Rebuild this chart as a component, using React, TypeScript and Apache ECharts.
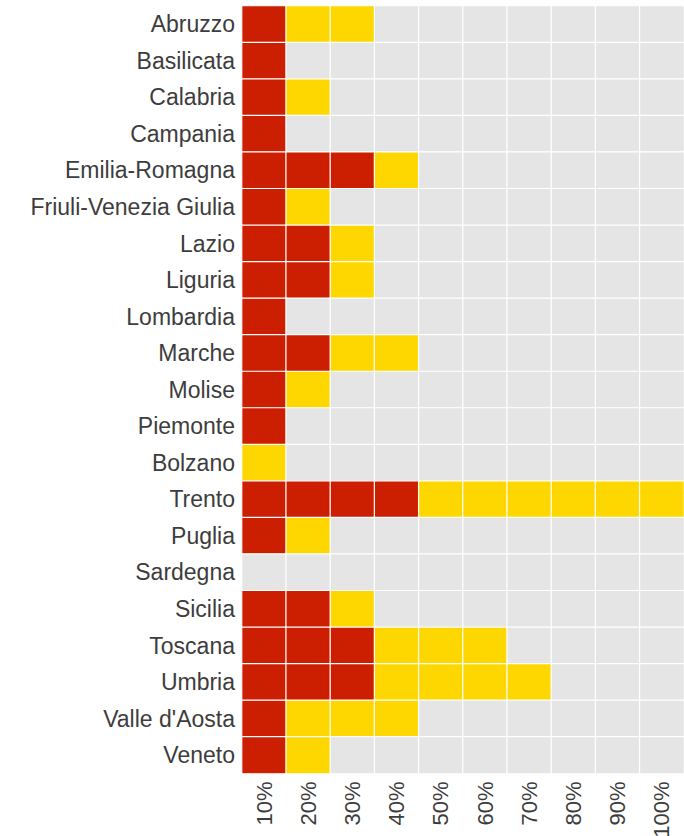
import React, { useEffect, useRef } from "react";
import * as echarts from "echarts";

const regions = [
  "Abruzzo",
  "Basilicata",
  "Calabria",
  "Campania",
  "Emilia-Romagna",
  "Friuli-Venezia Giulia",
  "Lazio",
  "Liguria",
  "Lombardia",
  "Marche",
  "Molise",
  "Piemonte",
  "Bolzano",
  "Trento",
  "Puglia",
  "Sardegna",
  "Sicilia",
  "Toscana",
  "Umbria",
  "Valle d'Aosta",
  "Veneto",
];

// number of red cells and yellow cells per region (from left)
const redCounts = [1, 1, 1, 1, 3, 1, 2, 2, 1, 2, 1, 1, 0, 4, 1, 0, 2, 3, 3, 1, 1];
const yellowCounts = [2, 0, 1, 0, 1, 1, 1, 1, 0, 2, 1, 0, 1, 6, 1, 0, 1, 3, 4, 3, 1];

const thresholds = ["10%", "20%", "30%", "40%", "50%", "60%", "70%", "80%", "90%", "100%"];

const RED = "#CC1E00";
const YELLOW = "#FFD700";
const GREY = "#E5E5E5";

export default function App() {
  const ref = useRef<HTMLDivElement>(null);

  useEffect(() => {
    if (!ref.current) return;
    const chart = echarts.init(ref.current, undefined, { renderer: "svg" });

    const data: number[][] = [];
    regions.forEach((reg, ri) => {
      const r = redCounts[ri];
      const y = yellowCounts[ri];
      thresholds.forEach((t, ci) => {
        const level = ci < r ? 2 : ci < r + y ? 1 : 0;
        data.push([ci, ri, level]);
      });
    });

    const font = "Liberation Sans, Arial, sans-serif";

    chart.setOption({
      animation: false,
      grid: {
        left: 242,
        top: 6,
        right: 0,
        bottom: 62.5,
        containLabel: false,
        outerBoundsMode: "none",
      },
      visualMap: {
        type: "piecewise",
        show: false,
        dimension: 2,
        pieces: [
          { value: 0, color: GREY },
          { value: 1, color: YELLOW },
          { value: 2, color: RED },
        ],
      },
      xAxis: {
        type: "category",
        data: thresholds,
        axisLine: { show: false },
        axisTick: { show: false },
        splitLine: { show: false },
        axisLabel: {
          fontFamily: font,
          fontSize: 22,
          color: "#3d3d3d",
          rotate: 90,
          margin: 8,
          interval: 0,
        },
      },
      yAxis: {
        type: "category",
        data: regions,
        inverse: true,
        axisLine: { show: false },
        axisTick: { show: false },
        splitLine: { show: false },
        axisLabel: {
          fontFamily: font,
          fontSize: 23,
          color: "#3d3d3d",
          margin: 7,
          interval: 0,
        },
      },
      series: [
        {
          type: "heatmap",
          data,
          itemStyle: { borderColor: "#ffffff", borderWidth: 1.2 },
          emphasis: { disabled: true },
          label: { show: false },
        },
      ],
    });

    return () => chart.dispose();
  }, []);

  return (
    <div
      ref={ref}
      style={{ position: "fixed", left: 0, top: 0, width: 684, height: 836, background: "#fff" }}
    />
  );
}
